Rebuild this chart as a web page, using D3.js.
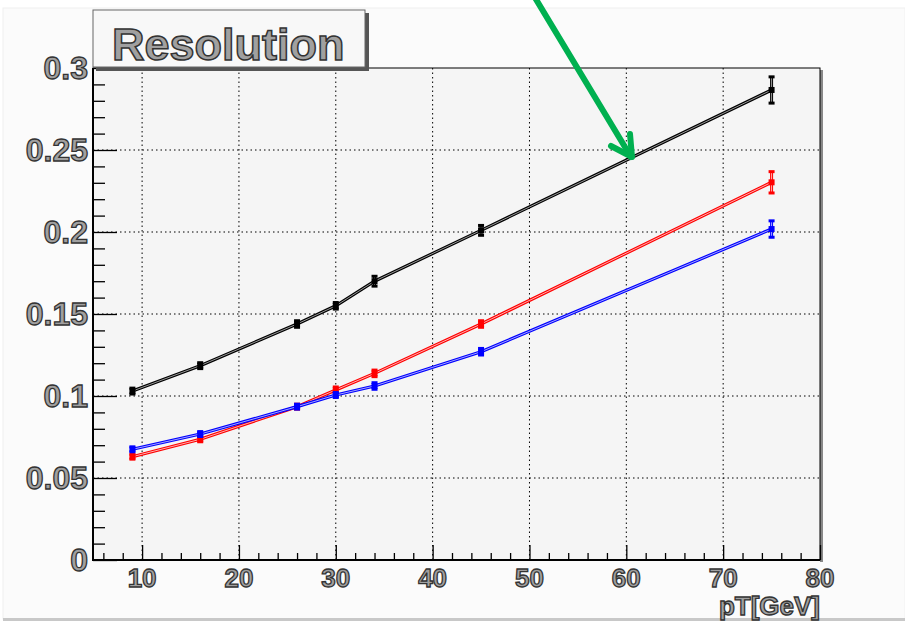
<!DOCTYPE html>
<html><head><meta charset="utf-8">
<script src="https://cdn.jsdelivr.net/npm/d3@7"></script>
<style>body{margin:0;background:#fff;}svg{display:block;}</style>
</head><body>
<svg id="c" width="905" height="628"></svg>
<script>
const ptValues = [9, 16, 26, 30, 34, 45, 75];
const blackRes = [0.103, 0.1185, 0.1439, 0.155, 0.170, 0.201, 0.2866];
const blackErr = [0.0018, 0.0018, 0.002, 0.002, 0.003, 0.003, 0.008];
const redRes = [0.063, 0.0736, 0.0935, 0.1037, 0.1138, 0.1439, 0.2303];
const redErr = [0.0015, 0.0015, 0.0015, 0.0018, 0.002, 0.002, 0.0065];
const blueRes = [0.0675, 0.0768, 0.0935, 0.1006, 0.1061, 0.127, 0.2018];
const blueErr = [0.0015, 0.0015, 0.0015, 0.0015, 0.002, 0.002, 0.005];
const xTicks = [10, 20, 30, 40, 50, 60, 70, 80];
const yTicks = [0, 0.05, 0.1, 0.15, 0.2, 0.25, 0.3];
const yTickLabels = ["0", "0.05", "0.1", "0.15", "0.2", "0.25", "0.3"];
const titleText = "Resolution";
const xTitle = "pT[GeV]";

const series = [
  {vals: blackRes, err: blackErr, color: "#000000", light: "#9a9a9a"},
  {vals: redRes, err: redErr, color: "#ff0000", light: "#ffb0b0"},
  {vals: blueRes, err: blueErr, color: "#0000ff", light: "#a8a8ff"}
];

const svg = d3.select("#c");
const L = 93, R = 820, T = 68, B = 560;
const x = d3.scaleLinear().domain([4.93, 80]).range([L, R]);
const y = d3.scaleLinear().domain([0, 0.3]).range([B, T]);

// canvas background
svg.append("rect").attr("x",0).attr("y",0).attr("width",905).attr("height",628).attr("fill","#ffffff");
svg.append("rect").attr("x",3).attr("y",8).attr("width",902).attr("height",611).attr("fill","#fbfbfb").attr("stroke","#f0f0f0");
svg.append("rect").attr("x",3).attr("y",618).attr("width",902).attr("height",3).attr("fill","#c8c8c8");

// frame shadow
svg.append("rect").attr("x",R).attr("y",T+2).attr("width",3).attr("height",B-T).attr("fill","#888");
// plot area
svg.append("rect").attr("x",L).attr("y",T).attr("width",R-L).attr("height",B-T).attr("fill","#f5f5f5").attr("stroke","#000").attr("stroke-width",1);

// grid
const g = svg.append("g");
g.selectAll("line.gx").data(xTicks.filter(d=>d<80)).enter().append("line")
  .attr("x1",d=>x(d)).attr("x2",d=>x(d)).attr("y1",T).attr("y2",B)
  .attr("stroke","#000").attr("stroke-width",1).attr("stroke-dasharray","1.5,3");
g.selectAll("line.gy").data(yTicks.filter(d=>d>0 && d<0.3)).enter().append("line")
  .attr("x1",L).attr("x2",R).attr("y1",d=>y(d)).attr("y2",d=>y(d))
  .attr("stroke","#000").attr("stroke-width",1).attr("stroke-dasharray","1.5,3");

// axes
const yAxis = d3.axisRight(y).tickValues(d3.range(0, 0.3001, 0.01)).tickSize(12).tickFormat("");
const ya = svg.append("g").attr("transform",`translate(${L},0)`).call(yAxis);
ya.select(".domain").remove();
ya.selectAll(".tick line").attr("stroke","#000").attr("stroke-width",1.3);
ya.selectAll(".tick").filter(d=>Math.abs(Math.round(d*20)-d*20)<1e-6).select("line").attr("x2",24);

const xAxis = d3.axisTop(x).tickValues(d3.range(6, 80.01, 2)).tickSize(7).tickFormat("");
const xa = svg.append("g").attr("transform",`translate(0,${B})`).call(xAxis);
xa.select(".domain").remove();
xa.selectAll(".tick line").attr("stroke","#000").attr("stroke-width",1.3);
xa.selectAll(".tick").filter(d=>Math.round(d)%10===0).select("line").attr("y2",-15);

svg.append("line").attr("x1",L).attr("x2",L).attr("y1",T).attr("y2",B+1).attr("stroke","#000").attr("stroke-width",2);
svg.append("line").attr("x1",L).attr("x2",R).attr("y1",B).attr("y2",B).attr("stroke","#000").attr("stroke-width",2);

// labels
const labStyle = s => s.attr("font-family","Liberation Sans, Arial, sans-serif").attr("font-weight","bold")
  .attr("fill","#a0a0a0").attr("stroke","#333").attr("stroke-width",1.3);
svg.selectAll("text.yl").data(yTicks).enter().append("text")
  .attr("x",88).attr("y",d=>y(d)+11).attr("text-anchor","end").attr("font-size",32)
  .text((d,i)=>yTickLabels[i]).call(labStyle);
svg.selectAll("text.xl").data(xTicks).enter().append("text")
  .attr("x",d=>x(d)).attr("y",587).attr("text-anchor","middle").attr("font-size",26)
  .text(d=>d).call(labStyle);
svg.append("text").attr("x",820).attr("y",615).attr("text-anchor","end").attr("font-size",26)
  .text(xTitle).call(labStyle);

// series
const line = d3.line().x((d,i)=>x(ptValues[i])).y(d=>y(d));
series.forEach(s=>{
  const sg = svg.append("g");
  sg.append("path").attr("d",line(s.vals)).attr("fill","none").attr("stroke",s.color).attr("stroke-width",3.2);
  sg.append("path").attr("d",line(s.vals)).attr("fill","none").attr("stroke",s.light).attr("stroke-width",1);
  s.vals.forEach((v,i)=>{
    const cx = x(ptValues[i]), y1 = y(v+s.err[i]), y2 = y(v-s.err[i]);
    sg.append("line").attr("x1",cx).attr("x2",cx).attr("y1",y1).attr("y2",y2).attr("stroke",s.color).attr("stroke-width",3);
    sg.append("line").attr("x1",cx).attr("x2",cx).attr("y1",y1).attr("y2",y2).attr("stroke",s.light).attr("stroke-width",1);
    [y1,y2].forEach(yy=>sg.append("rect").attr("x",cx-3).attr("y",yy-1.5).attr("width",6).attr("height",3).attr("fill",s.color));
    sg.append("rect").attr("x",cx-3).attr("y",y(v)-3).attr("width",6).attr("height",6).attr("fill",s.color);
  });
});

// title box
svg.append("rect").attr("x",96).attr("y",13).attr("width",273).attr("height",58).attr("fill","#555");
svg.append("rect").attr("x",93).attr("y",10).attr("width",272).attr("height",57).attr("fill","#f8f8f8").attr("stroke","#666").attr("stroke-width",1);
svg.append("text").attr("x",112).attr("y",60).attr("font-size",45).text(titleText).call(labStyle).attr("stroke-width",1.5);

// arrow
const ag = svg.append("g").attr("stroke","#00b050").attr("stroke-width",6).attr("stroke-linecap","round").attr("fill","none");
ag.append("line").attr("x1",534).attr("y1",-4).attr("x2",631).attr("y2",157);
ag.append("polyline").attr("points","630,134 632,157 611,146").attr("stroke-linejoin","round");
</script>
</body></html>
